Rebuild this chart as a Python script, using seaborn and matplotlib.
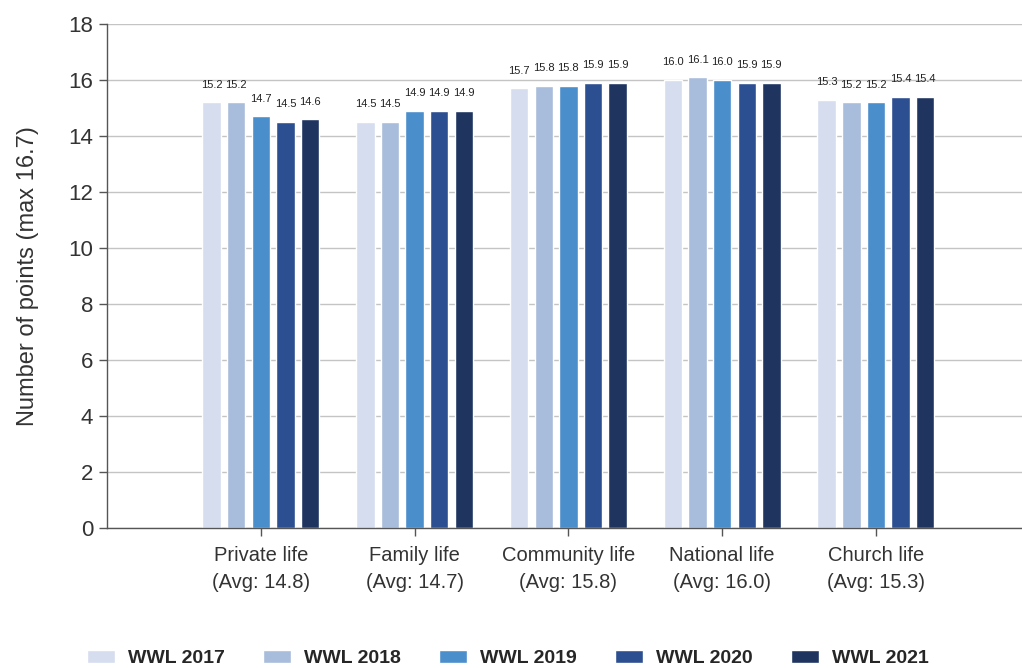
import pandas as pd
import matplotlib.pyplot as plt
import seaborn as sns

# values
categories = ["Private life", "Family life", "Community life", "National life", "Church life"]
averages = [14.8, 14.7, 15.8, 16.0, 15.3]
years = ["WWL 2017", "WWL 2018", "WWL 2019", "WWL 2020", "WWL 2021"]
wwl_2017 = [15.2, 14.5, 15.7, 16.0, 15.3]
wwl_2018 = [15.2, 14.5, 15.8, 16.1, 15.2]
wwl_2019 = [14.7, 14.9, 15.8, 16.0, 15.2]
wwl_2020 = [14.5, 14.9, 15.9, 15.9, 15.4]
wwl_2021 = [14.6, 14.9, 15.9, 15.9, 15.4]
colors = ["#d5ddee", "#a8bcdc", "#4a8fcc", "#2c4f91", "#1f3560"]

labels = [f"{c}\n(Avg: {a:.1f})" for c, a in zip(categories, averages)]
rows = []
for year, vals in zip(years, [wwl_2017, wwl_2018, wwl_2019, wwl_2020, wwl_2021]):
    for lab, v in zip(labels, vals):
        rows.append({"category": lab, "year": year, "points": v})
df = pd.DataFrame(rows)

sns.set_style("white")
plt.rcParams['font.family'] = ['Liberation Sans', 'DejaVu Sans']

fig = plt.figure(figsize=(10.22, 6.68), dpi=100)
ax = fig.add_axes([0.1047, 0.2096, 0.8953, 0.7545])

sns.barplot(data=df, x="category", y="points", hue="year", order=labels,
            hue_order=years, palette=colors, width=0.8, gap=0.25,
            saturation=1, errorbar=None, ax=ax)

for cont in ax.containers:
    ax.bar_label(cont, fmt="%.1f", padding=9, fontsize=8, color="#222222")

ax.set_ylim(0, 18)
ax.set_yticks(range(0, 19, 2))
ax.set_xlim(-1.0, 4.95)
ax.yaxis.grid(True, color="#c4c4c4", linewidth=1)
ax.set_axisbelow(True)

for side in ["top", "right"]:
    ax.spines[side].set_visible(False)
for side in ["left", "bottom"]:
    ax.spines[side].set_color("#555555")
    ax.spines[side].set_linewidth(1)

ax.tick_params(axis="both", direction="out", length=6, width=1, color="#555555",
               bottom=True, left=True)
ax.tick_params(axis="y", labelsize=16, labelcolor="#333333", pad=4)
ax.tick_params(axis="x", labelsize=14.5, labelcolor="#333333", pad=7)
for t in ax.get_xticklabels():
    t.set_linespacing(1.5)
ax.set_xlabel("")
ax.set_ylabel("Number of points (max 16.7)", fontsize=17, color="#333333", labelpad=21)

handles, leg_labels = ax.get_legend_handles_labels()
ax.get_legend().remove()
fig.legend(handles, leg_labels, loc="center", bbox_to_anchor=(0.497, 0.014),
           ncol=5, frameon=False, columnspacing=1.96, handlelength=1.44,
           handleheight=0.62, handletextpad=0.67,
           prop={"weight": "bold", "size": 14})

fig.savefig("out.png", dpi=100)
